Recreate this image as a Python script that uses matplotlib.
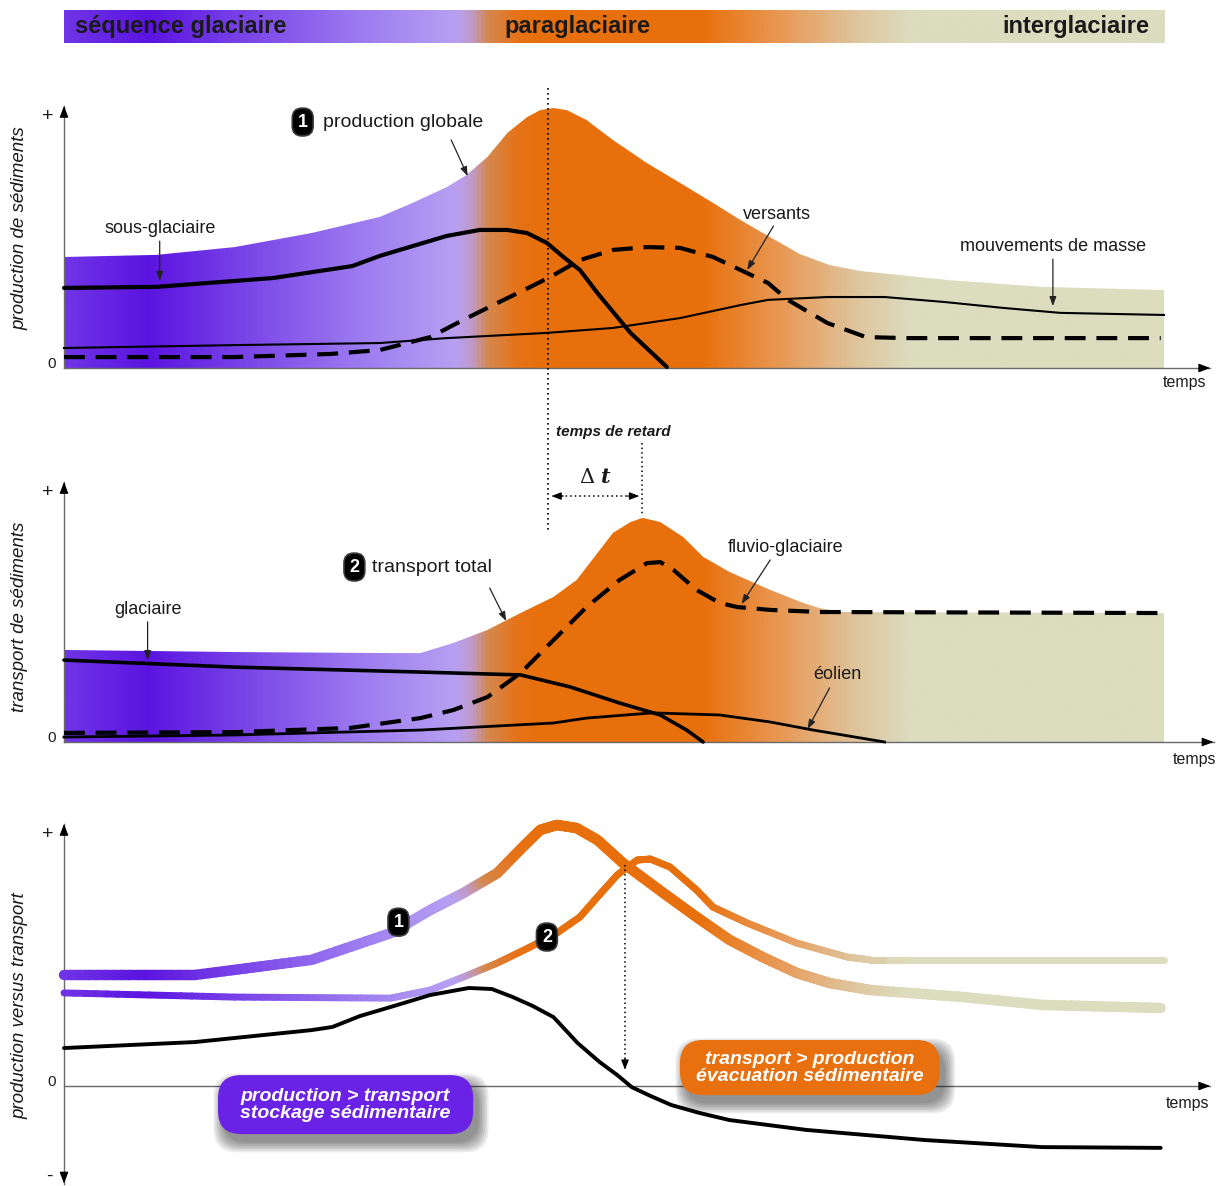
import numpy as np
import matplotlib.pyplot as plt
from matplotlib.colors import LinearSegmentedColormap
from matplotlib.collections import LineCollection
from matplotlib.patches import FancyBboxPatch

W, H = 1224, 1186            # output size (px)
X0, XPX, YPX = 64, 11.0, 2.6  # time origin (px), px per time unit, px per value unit

plt.rcParams['font.family'] = ['Liberation Sans', 'DejaVu Sans']
NARROW = ['Liberation Sans Narrow', 'Liberation Sans', 'DejaVu Sans']

# ---------------- data (time 0-100, relative amounts) ----------------
phase_labels = ['séquence glaciaire', 'paraglaciaire', 'interglaciaire']

# panel 1 : production de sédiments
t_prod = [0, 8.4, 15.5, 22.5, 28.7, 31.7, 34.8, 36.6, 38.5, 40.3, 42.1, 43.3, 44.5, 45.7, 47.5, 49.9,
          53.0, 56.0, 59.0, 61.5, 64.0, 66.9, 69.6, 72.4, 80.5, 88.9, 100]
v_prod = [42.7, 43.5, 46.5, 51.9, 58.1, 63.5, 69.6, 74.2, 81.2, 90.4, 96.5, 99.2, 100.0, 99.2, 95.4, 87.7,
          78.8, 71.2, 63.5, 56.9, 50.8, 43.8, 39.6, 37.3, 33.8, 31.2, 30.0]

t_subglac = [0, 8.4, 19.0, 26.2, 28.7, 31.7, 34.8, 37.8, 40.3, 42.1, 43.9, 45.4, 46.9, 48.5, 51.5, 54.8]
v_subglac = [30.8, 31.2, 34.6, 39.2, 43.1, 46.9, 50.8, 53.1, 53.1, 51.9, 48.1, 42.7, 37.7, 28.8, 13.5, 0.4]

t_versants = [0, 15.5, 24.2, 28.7, 33.3, 36.3, 39.4, 42.4, 44.2, 46.9, 49.9, 53.0, 56.0, 59.0, 61.5,
              64.0, 65.8, 69.4, 72.9, 76.5, 99.7]
v_versants = [4.2, 4.2, 5.4, 6.9, 11.9, 18.5, 25.0, 31.2, 35.0, 41.5, 45.4, 46.5, 46.2, 42.7, 37.7,
              32.7, 26.2, 17.3, 11.9, 11.5, 11.5]

t_masse = [0, 15.5, 28.7, 34.8, 43.9, 49.9, 56.0, 61.5, 64.0, 69.4, 74.6, 80.0, 85.4, 90.6, 100]
v_masse = [7.7, 8.8, 9.6, 11.5, 13.5, 15.4, 19.2, 24.2, 26.2, 27.3, 27.3, 25.4, 23.1, 21.2, 20.4]

# panel 2 : transport de sédiments
t_transp = [0, 15.5, 29.7, 32.4, 35.4, 38.5, 41.5, 44.5, 46.6, 48.5, 49.9, 51.5, 52.6, 54.2, 56.3,
            58.1, 60.5, 64.2, 67.2, 68.7, 70.5, 100]
v_transp = [35.4, 34.6, 34.2, 34.2, 38.1, 43.1, 49.6, 55.8, 62.3, 72.7, 80.4, 84.6, 86.2, 84.6, 78.8,
            71.2, 65.4, 58.5, 53.5, 51.5, 50.0, 49.6]

t_glac = [0, 15.5, 32.4, 41.5, 46.0, 50.5, 54.2, 56.6, 58.1]
v_glac = [31.5, 28.8, 26.9, 25.8, 21.2, 15.0, 10.4, 4.6, 0]

t_fluvio = [0, 15.5, 26.0, 32.4, 35.4, 38.5, 41.5, 44.5, 47.5, 50.5, 53.0, 54.2, 55.4, 57.5, 59.6,
            61.2, 64.2, 68.7, 100]
v_fluvio = [3.5, 3.8, 5.4, 9.2, 12.3, 17.3, 26.5, 39.2, 51.9, 62.3, 68.8, 69.2, 66.2, 58.5, 53.5,
            51.9, 50.8, 50.0, 49.6]

t_eolien = [0, 15.5, 32.4, 44.5, 47.5, 53.5, 59.6, 64.2, 68.1, 74.6]
v_eolien = [1.9, 2.7, 4.6, 7.3, 9.2, 11.2, 10.4, 7.7, 4.6, 0]

# panel 3 : production versus transport
t_c1 = [0, 11.9, 22.5, 29.7, 33.3, 36.3, 39.4, 41.7, 43.3, 44.8, 46.6, 48.5, 50.8, 54.5, 57.5, 60.5,
        63.5, 66.6, 69.6, 73.3, 81.8, 88.9, 99.7]
v_c1 = [42.7, 42.7, 48.5, 58.8, 67.7, 74.2, 81.9, 91.9, 98.5, 100.4, 99.2, 94.6, 85.8, 74.2, 65.0, 56.2,
        49.6, 43.5, 39.6, 36.9, 34.2, 31.2, 30.0]

t_c2 = [0, 15.5, 29.7, 33.3, 36.3, 39.4, 42.4, 44.8, 46.9, 48.5, 50.3, 52.1, 53.3, 55.1, 57.5, 59.0,
        62.1, 66.6, 71.2, 73.3, 100]
v_c2 = [35.8, 34.2, 33.8, 36.9, 41.9, 47.3, 53.5, 58.8, 65.0, 72.7, 81.2, 86.9, 87.3, 84.2, 75.4, 68.8,
        62.7, 55.0, 49.6, 48.5, 48.5]

t_diff = [0, 11.9, 22.5, 24.4, 26.9, 29.7, 33.3, 36.8, 38.9, 40.8, 42.6, 44.5, 46.7, 48.7, 50.3, 51.6,
          53.3, 55.2, 57.8, 60.5, 67.5, 78.3, 88.9, 99.7]
v_diff = [14.6, 16.9, 21.5, 22.7, 26.9, 30.4, 35.0, 37.7, 37.3, 34.2, 30.8, 26.5, 16.5, 9.2, 4.2, -0.4,
          -3.8, -7.3, -10.4, -13.1, -16.9, -20.8, -23.5, -23.8]

t_peak_prod, t_peak_transp, t_cross = 44.0, 52.5, 51.0

# ---------------- colours ----------------
phase_cmap = LinearSegmentedColormap.from_list('phases', [
    (0.00, '#6f34e6'), (0.075, '#5b14e0'), (0.17, '#7c48e8'), (0.27, '#9d7cf0'),
    (0.355, '#b7a0f2'), (0.37, '#c09ac8'), (0.385, '#d4884e'), (0.41, '#e6731a'),
    (0.43, '#e8700c'), (0.58, '#e8700c'), (0.655, '#e89a58'), (0.72, '#dfc49c'),
    (0.77, '#dcdcbf'), (1.00, '#dcdcbf')])
TXT = '#1a1a1a'

fig = plt.figure(figsize=(W / 100, H / 100), dpi=100)


def make_panel(top, bottom, base):
    ax = fig.add_axes([0, 1 - bottom / H, 1, (bottom - top) / H])
    ax.axis('off')
    ax.patch.set_visible(False)
    return ax


def set_lims(ax, top, bottom, base):
    ax.set_xlim(-X0 / XPX, (W - X0) / XPX)
    ax.set_ylim((base - bottom) / YPX, (base - top) / YPX)


def gradient_fill(ax, t, v):
    poly = ax.fill(np.r_[t, t[-1], t[0]], np.r_[v, 0, 0], fc='none', ec='none')[0]
    im = ax.imshow(np.linspace(0, 1, 800)[None, :], cmap=phase_cmap, extent=(0, 100, 0, max(v) + 2),
                   aspect='auto', origin='lower', interpolation='bilinear', zorder=1)
    im.set_clip_path(poly)


def gradient_line(ax, t, v, lw, n=16):
    t = np.asarray(t, float)
    v = np.asarray(v, float)
    segs, cols = [], []
    for i in range(len(t) - 1):
        f = np.linspace(0, 1, n + 1)
        xs = t[i] + (t[i + 1] - t[i]) * f
        ys = v[i] + (v[i + 1] - v[i]) * f
        for j in range(n):
            segs.append([(xs[j], ys[j]), (xs[j + 1], ys[j + 1])])
            cols.append(phase_cmap((xs[j] + xs[j + 1]) / 200))
    lc = LineCollection(segs, colors=cols, linewidths=lw, capstyle='round', zorder=3)
    ax.add_collection(lc)


def pointer(ax, start, end):
    ax.annotate('', xy=end, xytext=start, zorder=6,
                arrowprops=dict(arrowstyle='-|>,head_length=0.55,head_width=0.2',
                                color='#222222', lw=0.9, shrinkA=0, shrinkB=0))


def head(ax, start, end, size=0.7):
    ax.annotate('', xy=end, xytext=start, annotation_clip=False, zorder=6,
                arrowprops=dict(arrowstyle=f'-|>,head_length={size},head_width={size * 0.38}',
                                color='black', lw=0.8, shrinkA=0, shrinkB=0))


def axes_frame(ax, x_end, y_top, y_bot=0.0, minus=False):
    ax.plot([0, x_end], [0, 0], color='#6a6a6a', lw=1, zorder=2, clip_on=False)
    ax.plot([0, 0], [y_bot, y_top], color='#6a6a6a', lw=1, zorder=2, clip_on=False)
    head(ax, (x_end - 1, 0), (x_end, 0))
    head(ax, (0, y_top - 4), (0, y_top))
    if minus:
        head(ax, (0, y_bot + 4), (0, y_bot))
    ax.text(-1.45, y_top - 4, '+', ha='center', va='center', fontsize=14, color=TXT)
    ax.text(-1.1, 1.5, '0', ha='center', va='center', fontsize=11, color=TXT, family=NARROW)


def badge(ax, x, y, s, size=13):
    ax.text(x, y, s, ha='center', va='center', fontsize=size, fontweight='bold', color='white',
            family=NARROW, zorder=7,
            bbox=dict(boxstyle='round,pad=0.3,rounding_size=0.55', fc='black', ec='#3a3a3a', lw=1.2))


def pill(ax, x0, y0, w, h, color, lines):
    asp = XPX / YPX
    style = 'round,pad=0,rounding_size=2.1'
    dx, dy = 0.5, -3.2
    for g in np.linspace(0.9, 0.0, 7):
        ax.add_patch(FancyBboxPatch((x0 + dx - g, y0 + dy - g * asp), w + 2 * g, h + 2 * g * asp,
                                    boxstyle=style, mutation_aspect=asp, fc='#0d0d0d', ec='none',
                                    alpha=0.08, zorder=4))
    ax.add_patch(FancyBboxPatch((x0, y0), w, h, boxstyle=style, mutation_aspect=asp,
                                fc=color, ec='none', zorder=5))
    ax.text(x0 + w / 2, y0 + h / 2, lines, ha='center', va='center', color='white', fontsize=14,
            fontweight='bold', style='italic', family=NARROW, linespacing=1.0, zorder=6)


# ---------------- banner ----------------
bn = fig.add_axes([0, 1 - 43 / H, 1, 33 / H])
bn.axis('off')
bn.imshow(np.linspace(0, 1, 800)[None, :], cmap=phase_cmap, extent=(0, 100, 0, 1),
          aspect='auto', interpolation='bilinear')
bn.set_xlim(-X0 / XPX, (W - X0) / XPX)
bn.set_ylim(0, 1)
bn.text(1.0, 0.5, phase_labels[0], ha='left', va='center', fontsize=17, fontweight='bold', color=TXT)
bn.text(46.7, 0.5, phase_labels[1], ha='center', va='center', fontsize=17, fontweight='bold', color=TXT)
bn.text(98.7, 0.5, phase_labels[2], ha='right', va='center', fontsize=17, fontweight='bold', color=TXT)

# ---------------- panel 1 ----------------
ax1 = make_panel(60, 400, 368)
gradient_fill(ax1, t_prod, v_prod)
ax1.plot(t_masse, v_masse, color='black', lw=1.5, zorder=3, solid_joinstyle='round')
ax1.plot(t_versants, v_versants, color='black', lw=3, ls=(0, (5, 2.6)), zorder=3)
ax1.plot(t_subglac, v_subglac, color='black', lw=3, zorder=3, solid_joinstyle='round', solid_capstyle='round')
set_lims(ax1, 60, 400, 368)
axes_frame(ax1, 104.2, 100.8)
ax1.plot([t_peak_prod, t_peak_prod], [107.7, -62.3], color='black', lw=1.2, ls=(0, (1, 2)),
         zorder=6, clip_on=False)
ax1.text(-4.0, 53.8, 'production de sédiments', rotation=90, ha='center', va='center',
         fontsize=13.5, style='italic', color=TXT)
ax1.text(101.9, -5.6, 'temps', ha='center', va='center', fontsize=11.5, color=TXT, family=NARROW)
ax1.text(8.7, 53.8, 'sous-glaciaire', ha='center', va='center', fontsize=13, color=TXT, family=NARROW)
pointer(ax1, (8.7, 48.8), (8.7, 33.5))
badge(ax1, 21.7, 94.6, '1')
ax1.text(23.5, 94.6, 'production globale', ha='left', va='center', fontsize=14, color=TXT, family=NARROW)
pointer(ax1, (35.2, 87.7), (36.7, 73.8))
ax1.text(64.8, 59.2, 'versants', ha='center', va='center', fontsize=13, color=TXT, family=NARROW)
pointer(ax1, (64.5, 54.6), (62.1, 37.7))
ax1.text(89.9, 46.9, 'mouvements de masse', ha='center', va='center', fontsize=13, color=TXT, family=NARROW)
pointer(ax1, (89.9, 41.9), (89.9, 23.8))

# ---------------- panel 2 ----------------
ax2 = make_panel(400, 790, 742)
gradient_fill(ax2, t_transp, v_transp)
ax2.plot(t_eolien, v_eolien, color='black', lw=2, zorder=3, solid_joinstyle='round')
ax2.plot(t_fluvio, v_fluvio, color='black', lw=3, ls=(0, (5, 2.6)), zorder=3)
ax2.plot(t_glac, v_glac, color='black', lw=2.6, zorder=3, solid_joinstyle='round', solid_capstyle='round')
set_lims(ax2, 400, 790, 742)
axes_frame(ax2, 104.5, 100.0)
ax2.plot([t_peak_transp, t_peak_transp], [115.0, 87.3], color='black', lw=1.1, ls=(0, (1, 2)), zorder=6)
ax2.text(49.9, 119.2, 'temps de retard', ha='center', va='center', fontsize=11, fontweight='bold',
         style='italic', color=TXT, family=NARROW)
ax2.text(48.3, 101.8, r'$\Delta\ \boldsymbol{t}$', ha='center', va='center', fontsize=15,
         color=TXT, math_fontfamily='dejavuserif')
ax2.plot([45.2, 51.4], [94.6, 94.6], color='black', lw=1.1, ls=(0, (1, 2)), zorder=6)
head(ax2, (45.4, 94.6), (44.3, 94.6), size=0.6)
head(ax2, (51.2, 94.6), (52.3, 94.6), size=0.6)
ax2.text(-4.0, 48.0, 'transport de sédiments', rotation=90, ha='center', va='center',
         fontsize=13.5, style='italic', color=TXT)
ax2.text(100.8, -6.9, 'temps', ha='left', va='center', fontsize=11.5, color=TXT, family=NARROW)
ax2.text(7.6, 50.8, 'glaciaire', ha='center', va='center', fontsize=13, color=TXT, family=NARROW)
pointer(ax2, (7.6, 46.2), (7.6, 31.5))
badge(ax2, 26.4, 67.3, '2')
ax2.text(28.0, 67.3, 'transport total', ha='left', va='center', fontsize=14, color=TXT, family=NARROW)
pointer(ax2, (38.7, 59.2), (40.2, 46.5))
ax2.text(65.6, 75.0, 'fluvio-glaciaire', ha='center', va='center', fontsize=13, color=TXT, family=NARROW)
pointer(ax2, (64.2, 70.0), (61.6, 53.1))
ax2.text(70.3, 25.8, 'éolien', ha='center', va='center', fontsize=13, color=TXT, family=NARROW)
pointer(ax2, (69.6, 20.8), (67.6, 5.0))

# ---------------- panel 3 ----------------
ax3 = make_panel(800, 1186, 1086)
gradient_line(ax3, t_c2, v_c2, lw=5)
gradient_line(ax3, t_c1, v_c1, lw=7.5)
ax3.plot(t_diff, v_diff, color='black', lw=2.8, zorder=3, solid_joinstyle='round', solid_capstyle='round')
set_lims(ax3, 800, 1186, 1086)
axes_frame(ax3, 104.2, 100.8, y_bot=-37.5, minus=True)
ax3.text(-1.3, -34.6, '-', ha='center', va='center', fontsize=14, color=TXT)
ax3.plot([t_cross, t_cross], [85.0, 10.0], color='black', lw=1.1, ls=(0, (1, 2)), zorder=6)
head(ax3, (t_cross, 10.5), (t_cross, 6.2), size=0.6)
badge(ax3, 30.4, 63.0, '1')
badge(ax3, 43.9, 57.3, '2')
pill(ax3, 14.0, -18.5, 23.2, 22.7, '#6a22e6', 'production > transport\nstockage sédimentaire')
pill(ax3, 56.0, -3.5, 23.6, 21.2, '#e8700f', 'transport > production\névacuation sédimentaire')
ax3.text(-4.0, 31.0, 'production versus transport', rotation=90, ha='center', va='center',
         fontsize=13.5, style='italic', color=TXT)
ax3.text(102.1, -6.9, 'temps', ha='center', va='center', fontsize=11.5, color=TXT, family=NARROW)

fig.savefig('out.png', dpi=100)
